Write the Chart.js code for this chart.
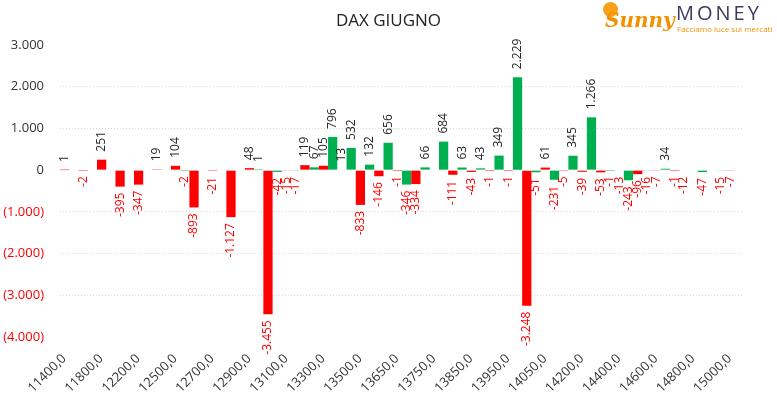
<!DOCTYPE html>
<html>
<head>
<meta charset="utf-8">
<script src="https://cdn.jsdelivr.net/npm/chart.js@4"></script>
<style>
  html, body { margin: 0; padding: 0; background: #fff; }
  #wrap { position: relative; width: 777px; height: 393px; }
  #title { position: absolute; left: 0; width: 777px; top: 8px; text-align: center;
           font: 17px "Open Sans", sans-serif; color: #222; }
  #logo { position: absolute; left: 598px; top: 0; width: 179px; height: 40px; font-family: "Open Sans", sans-serif; white-space: nowrap; }
  #sun { position: absolute; left: 5px; top: 2px; width: 15px; height: 15px; border-radius: 50%; background: #f7a11a; }
  #sunny { position: absolute; left: 7px; top: 8px; font: italic bold 20px "DejaVu Serif", serif; color: #f39200; }
  #money { position: absolute; left: 78px; top: -1px; font: 20px "Open Sans", sans-serif; color: #3b3b5c; letter-spacing: 3px; }
  #tag { position: absolute; left: 79px; top: 23px; font: 8px "Open Sans", sans-serif; color: #f39200; }
</style>
</head>
<body>
<div id="wrap">
  <canvas id="myChart" width="777" height="393"></canvas>
  <div id="title">DAX GIUGNO</div>
  <div id="logo">
    <div id="sun"></div>
    <div id="sunny">Sunny</div>
    <div id="money">MONEY</div>
    <div id="tag">Facciamo luce sui mercati</div>
  </div>
</div>
<script>
'use strict'

let strikes = [11400, 11600, 11800, 12000, 12200, 12400, 12500, 12600, 12700, 12800,
               12900, 13000, 13100, 13200, 13300, 13400, 13500, 13600, 13650, 13700,
               13750, 13800, 13850, 13900, 13950, 14000, 14050, 14100, 14200, 14300,
               14400, 14500, 14600, 14700, 14800, 14900, 15000];

// red series (left bar of each strike)
let redValues = [1, -2, 251, -395, -347, 19, 104, -893, -21, -1127,
                 48, -3455, -15, 119, 105, 13, -833, -146, -1, -334,
                 null, -111, -43, -1, -1, -3248, 61, -5, -39, -53,
                 -13, -96, -7, -1, null, null, -7];

// green series (right bar of each strike)
let greenValues = [null, null, null, null, null, null, -2, null, null, null,
                   1, -42, -17, 67, 796, 532, 132, 656, -346, 66,
                   684, 63, 43, 349, 2229, -51, -231, 345, 1266, -1,
                   -243, -16, 34, -12, -47, -15, null];

let yTicks = [-4000, -3000, -2000, -1000, 0, 1000, 2000, 3000];

let RED = '#ff0000';
let GREEN = '#00b050';

function fmt(v) {
    let s = String(Math.abs(v));
    s = s.replace(/\B(?=(\d{3})+(?!\d))/g, '.');
    return (v < 0 ? '-' : '') + s;
}

// rotated value labels on every bar
const barLabels = {
    id: 'barLabels',
    afterDatasetsDraw(chart) {
        let ctx = chart.ctx;
        ctx.save();
        ctx.font = '12px "Open Sans"';
        chart.data.datasets.forEach(function (ds, di) {
            chart.getDatasetMeta(di).data.forEach(function (bar, idx) {
                let v = ds.data[idx];
                if (v === null) return;
                ctx.save();
                ctx.translate(bar.x, v >= 0 ? bar.y - 8 : bar.y + 6);
                ctx.rotate(-Math.PI / 2);
                ctx.textAlign = v >= 0 ? 'left' : 'right';
                ctx.textBaseline = 'middle';
                ctx.fillStyle = v < 0 ? RED : '#262626';
                ctx.fillText(fmt(v), 0, 0);
                ctx.restore();
            });
        });
        ctx.restore();
    }
};

var ctx = document.getElementById('myChart').getContext('2d');
var chart = new Chart(ctx, {
    type: 'bar',
    data: {
        labels: strikes.map(function (s) { return s + ',0'; }),
        datasets: [{
            label: 'rosso',
            backgroundColor: RED,
            data: redValues,
        }, {
            label: 'verde',
            backgroundColor: GREEN,
            data: greenValues,
        }]
    },
    options: {
        responsive: false,
        animation: false,
        layout: { padding: { top: 45, right: 33, bottom: 0, left: 0 } },
        datasets: { bar: { categoryPercentage: 1, barPercentage: 1, inflateAmount: 0 } },
        plugins: {
            legend: { display: false },
            tooltip: { enabled: false }
        },
        scales: {
            x: {
                grid: { display: false },
                border: { display: false },
                afterFit: function (scale) { scale.height = 56; },
                ticks: {
                    autoSkip: false,
                    maxRotation: 45,
                    minRotation: 45,
                    padding: 6,
                    labelOffset: -5,
                    color: '#333',
                    font: { family: 'Open Sans', size: 13 },
                    callback: function (val, index) {
                        return index % 2 === 0 ? this.getLabelForValue(val) : '';
                    }
                }
            },
            y: {
                min: -4000,
                max: 3000,
                afterFit: function (scale) { scale.width = 60; },
                afterBuildTicks: function (scale) {
                    scale.ticks = yTicks.map(function (v) { return { value: v }; });
                },
                border: { display: false, dash: [1, 2] },
                grid: {
                    drawTicks: false,
                    color: function (c) {
                        if (c.tick && (c.tick.value === 3000 || c.tick.value === -4000 || c.tick.value === 0)) return 'rgba(0,0,0,0)';
                        return '#d9d9d9';
                    },
                    lineWidth: 1
                },
                ticks: {
                    padding: 16,
                    font: { family: 'Open Sans', size: 13 },
                    color: function (c) { return c.tick.value < 0 ? RED : '#333'; },
                    callback: function (v) {
                        return v < 0 ? '(' + fmt(-v) + ')' : fmt(v);
                    }
                }
            }
        }
    },
    plugins: [barLabels]
});
</script>
</body>
</html>
